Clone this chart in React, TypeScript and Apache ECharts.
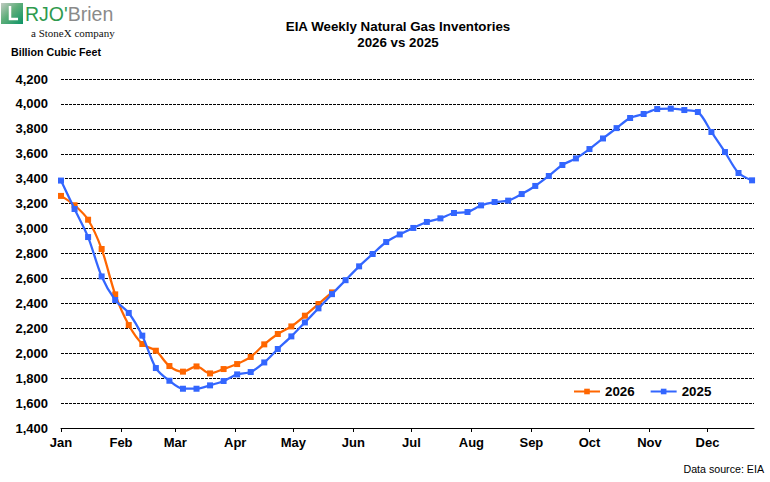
import React, { useEffect, useRef } from "react";
import * as echarts from "echarts";

// Weekly working-gas storage, Billion Cubic Feet (one value per report week)
const storage2026: number[] = [
  3262, 3187, 3071, 2836, 2472, 2226, 2074, 2020, 1897, 1852, 1894, 1838, 1873,
  1913, 1970, 2071, 2154, 2215, 2301, 2395, 2488,
];
const storage2025: number[] = [
  3385, 3157, 2932, 2616, 2427, 2323, 2141, 1881, 1779, 1715, 1715, 1742, 1777,
  1830, 1849, 1926, 2034, 2135, 2247, 2360, 2474, 2586, 2697, 2796, 2892, 2953,
  3005, 3053, 3082, 3125, 3133, 3186, 3213, 3224, 3277, 3342, 3422, 3510, 3563,
  3638, 3723, 3806, 3887, 3919, 3959, 3962, 3951, 3935, 3775, 3614, 3446, 3387,
];

// Month labels and the day-of-year each month starts on
const monthNames: string[] = ["Jan", "Feb", "Mar", "Apr", "May", "Jun", "Jul", "Aug", "Sep", "Oct", "Nov", "Dec"];
const monthStartDays: number[] = [0, 31, 59, 90, 120, 151, 181, 212, 243, 273, 304, 334];

const seriesNames: string[] = ["2026", "2025"];
const DAYS_PER_WEEK = 7;

const toWeekPoints = (vals: number[]) => vals.map((v, i) => [i * DAYS_PER_WEEK, v]);

const FONT = "Arial, 'Liberation Sans', Helvetica, sans-serif";

export default function App() {
  const ref = useRef<HTMLDivElement>(null);

  useEffect(() => {
    if (!ref.current) return;
    const chart = echarts.init(ref.current, undefined, { renderer: "svg" });

    const option: echarts.EChartsOption = {
      animation: false,
      backgroundColor: "#ffffff",
      textStyle: { fontFamily: FONT },
      title: {
        text: "EIA Weekly Natural Gas Inventories\n2026 vs 2025",
        left: 393,
        textAlign: "center",
        top: 14,
        textStyle: {
          fontFamily: FONT,
          fontSize: 13.33,
          fontWeight: "bold",
          color: "#000",
          lineHeight: 15.5,
        },
      },
      legend: {
        data: seriesNames,
        left: 573,
        top: 385,
        padding: 0,
        itemWidth: 26,
        itemHeight: 7,
        itemGap: 15,
        textStyle: { fontFamily: FONT, fontSize: 13.33, fontWeight: "bold", color: "#000" },
      },
      grid: { left: 61, right: 16, top: 79, bottom: 54 },
      xAxis: {
        type: "value",
        min: 0,
        max: 358,
        axisLine: { show: true, lineStyle: { color: "#000", width: 1 } },
        axisTick: {
          show: true,
          length: 4,
          lineStyle: { color: "#000" },
          customValues: monthStartDays,
        },
        axisLabel: {
          customValues: monthStartDays,
          margin: 8,
          fontFamily: FONT,
          fontSize: 13,
          fontWeight: "bold",
          color: "#000",
          formatter: (v: number) => {
            const idx = monthStartDays.indexOf(Math.round(v));
            return idx >= 0 ? monthNames[idx] : "";
          },
        },
        splitLine: { show: false },
      },
      yAxis: {
        type: "value",
        min: 1400,
        max: 4200,
        interval: 200,
        axisLine: { show: false },
        axisTick: { show: false },
        axisLabel: {
          margin: 13,
          fontFamily: FONT,
          fontSize: 13,
          fontWeight: "bold",
          color: "#000",
          formatter: (v: number) => v.toLocaleString("en-US"),
        },
        splitLine: {
          show: true,
          lineStyle: { color: "#000", width: 1, type: [3, 1] },
        },
      },
      series: [
        {
          name: seriesNames[0],
          type: "line",
          data: toWeekPoints(storage2026),
          smooth: 0.3,
          symbol: "rect",
          symbolSize: 6,
          showAllSymbol: true,
          lineStyle: { color: "#FF6600", width: 2.25 },
          itemStyle: { color: "#FF6600" },
          z: 2,
        },
        {
          name: seriesNames[1],
          type: "line",
          data: toWeekPoints(storage2025),
          smooth: 0.3,
          symbol: "rect",
          symbolSize: 6,
          showAllSymbol: true,
          lineStyle: { color: "#3366FF", width: 2.25 },
          itemStyle: { color: "#3366FF" },
          z: 3,
        },
      ],
      graphic: [
        // RJO'Brien mark
        {
          type: "group",
          left: 1,
          top: 3,
          children: [
            {
              type: "rect",
              shape: { x: 0, y: 0, width: 22, height: 21 },
              style: {
                fill: new echarts.graphic.LinearGradient(0, 0, 1, 1, [
                  { offset: 0, color: "#c2cbc2" },
                  { offset: 0.45, color: "#5fae7a" },
                  { offset: 1, color: "#0c9466" },
                ]),
              },
            },
            {
              type: "polyline",
              shape: { points: [[9, 3], [9, 16], [17, 16]] },
              style: { stroke: "#ffffff", lineWidth: 2.5, fill: "none" },
            },
          ],
        },
        {
          type: "text",
          left: 25,
          top: 4,
          style: {
            text: "{g|RJO'}{b|Brien}",
            rich: {
              g: { fontFamily: FONT, fontSize: 19.5, fill: "#2f9a4e" },
              b: { fontFamily: FONT, fontSize: 19.5, fill: "#8a8a8a" },
            },
          } as any,
        },
        {
          type: "text",
          left: 31,
          top: 27,
          style: {
            text: "a StoneX company",
            fontFamily: "'Liberation Serif', 'Times New Roman', serif",
            fontSize: 11,
            fill: "#111",
          },
        },
        {
          type: "text",
          left: 11,
          top: 46,
          style: {
            text: "Billion Cubic Feet",
            fontFamily: FONT,
            fontSize: 10.67,
            fontWeight: "bold",
            fill: "#000",
          },
        },
        {
          type: "text",
          right: 6,
          top: 463,
          style: {
            text: "Data source: EIA",
            fontFamily: FONT,
            fontSize: 10.67,
            fill: "#000",
          },
        },
      ],
    };

    chart.setOption(option);
    return () => chart.dispose();
  }, []);

  return (
    <div
      ref={ref}
      style={{ position: "fixed", left: 0, top: 0, width: 770, height: 482 }}
    />
  );
}
